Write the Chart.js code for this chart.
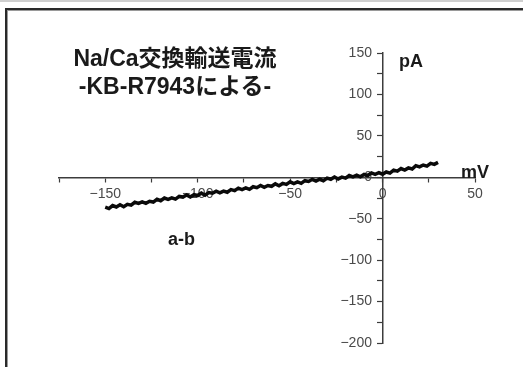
<!DOCTYPE html>
<html>
<head>
<meta charset="utf-8">
<script src="https://cdn.jsdelivr.net/npm/chart.js@4/dist/chart.umd.min.js"></script>
<style>
  html, body { margin:0; padding:0; background:#fff; }
  #wrap { position:relative; width:523px; height:367px; overflow:hidden; }
  #topline { position:absolute; left:0; top:0; width:523px; height:2px; background:#cfcfcf; }
  #frame { position:absolute; left:5px; top:8px; width:600px; height:400px; border-left:2px solid #2a2a2a; border-top:2px solid #2a2a2a; box-shadow: inset 1px 1px 0 #9a9a9a; }
  canvas { position:absolute; left:0; top:0; }
  .lbl { position:absolute; font-family:"Liberation Sans", Arial, "Noto Sans CJK JP", sans-serif; font-weight:bold; color:#1a1a1a; line-height:1; white-space:nowrap; }
</style>
</head>
<body>
<div id="wrap">
  <div id="topline"></div>
  <div id="frame"></div>
  <canvas id="ivChart" width="523" height="367"></canvas>
  <div class="lbl" style="left:64px;top:47px;font-size:23px;width:222px;text-align:center;">Na/Ca交換輸送電流</div>
  <div class="lbl" style="left:64px;top:75px;font-size:23px;width:222px;text-align:center;">-KB-R7943による-</div>
  <div class="lbl" style="left:399px;top:52px;font-size:18px;">pA</div>
  <div class="lbl" style="left:461px;top:163px;font-size:18px;">mV</div>
  <div class="lbl" style="left:168px;top:230px;font-size:18px;">a-b</div>
</div>
<script>
// membrane potential (mV) and current (pA)
const voltage = [-150,-148,-146,-144,-142,-140,-138,-136,-134,-132,-130,-128,-126,-124,-122,-120,-118,-116,-114,-112,-110,-108,-106,-104,-102,-100,
  -98,-96,-94,-92,-90,-88,-86,-84,-82,-80,-78,-76,-74,-72,-70,-68,-66,-64,-62,-60,-58,-56,-54,-52,-50,
  -48,-46,-44,-42,-40,-38,-36,-34,-32,-30,-28,-26,-24,-22,-20,-18,-16,-14,-12,-10,-8,-6,-4,-2,0,
  2,4,6,8,10,12,14,16,18,20,22,24,26,28,30];
const current = [-36.1,-37.7,-34.1,-35.8,-33.2,-35.6,-32.7,-33.6,-30.2,-31.6,-29.6,-31.5,-29.0,-29.9,-26.6,-28.3,-25.0,-26.7,-24.8,-26.4,-23.1,-23.9,-21.4,-23.7,-21.0,-22.0,
  -19.1,-21.6,-18.5,-19.3,-16.8,-18.8,-16.7,-18.1,-14.9,-16.2,-13.1,-14.8,-12.8,-14.6,-11.4,-12.6,-9.9,-12.2,-9.9,-10.9,-7.9,-10.2,-7.4,-8.5,-5.5,
  -7.7,-5.6,-7.3,-4.1,-5.1,-2.5,-4.6,-2.4,-4.1,-1.0,-2.4,0.3,-2.0,0.2,-1.1,2.1,0.6,2.6,0.6,3.4,2.1,5.3,3.6,5.6,3.7,
  6.4,5.0,8.7,7.4,10.5,8.7,11.3,10.0,14.0,12.5,14.8,13.4,16.8,15.6,18.0];

const xLabels = [-150,-100,-50,0,50];
const yLabels = [150,100,50,0,-50,-100,-150,-200];

const fmt = v => (v < 0 ? "\u2212" + Math.abs(v) : String(v));
const tickFont = { family:"Liberation Sans, Arial, sans-serif", size:14 };
const axisColor = "#3c3c3c";

const ctx = document.getElementById("ivChart").getContext("2d");
new Chart(ctx, {
  type: "line",
  data: { datasets: [{ data: voltage.map((v,i)=>({x:v, y:current[i]})), borderColor:"#0a0a0a", borderWidth:3.5, pointRadius:0, tension:0, fill:false }] },
  options: {
    responsive:false, animation:false,
    layout:{ padding:{ left:59, right:48, top:53, bottom:24 } },
    plugins:{ legend:{display:false}, tooltip:{enabled:false} },
    scales:{
      x:{ type:"linear", min:-175, max:50, position:{y:0},
        border:{ color:axisColor, width:1.5 },
        grid:{ drawOnChartArea:false, drawTicks:true, tickLength:4, color:axisColor, tickWidth:1.2 },
        ticks:{ stepSize:25, autoSkip:false, maxRotation:0, padding:4, color:"#4a4a4a", font:tickFont,
          callback:v => xLabels.includes(v) ? fmt(v) : "" } },
      y:{ type:"linear", min:-200, max:150, position:{x:0},
        border:{ color:axisColor, width:1.5 },
        grid:{ drawOnChartArea:false, drawTicks:true, tickLength:5, color:axisColor, tickWidth:1.2 },
        ticks:{ stepSize:25, autoSkip:false, color:"#4a4a4a", font:tickFont,
          callback:v => yLabels.includes(v) ? fmt(v) + "  \u2009" : "" } }
    }
  }
});
</script>
</body>
</html>
